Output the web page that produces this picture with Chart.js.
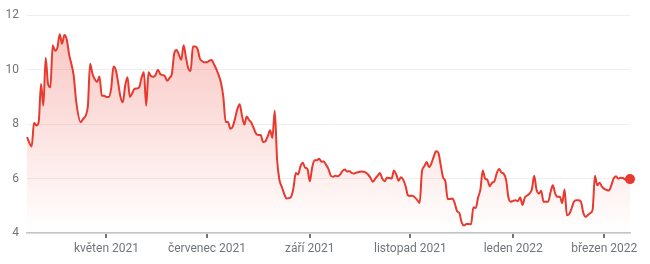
<!DOCTYPE html>
<html>
<head>
<meta charset="utf-8">
<script src="https://cdn.jsdelivr.net/npm/chart.js@4"></script>
<style>
  html, body { margin: 0; padding: 0; background: #ffffff; }
  #wrap { width: 650px; height: 264px; }
</style>
</head>
<body>
<div id="wrap"><canvas id="c" width="650" height="264"></canvas></div>
<script>
// trading-day index (0 = mid-March 2021)
const days = [0,2,3,4,5,6,7,8,9,10,11,12,13,14,15,16,17,18,20,21,23,24,26,27,28,29,30,31,32,33,34,35,36,37,38,39,40,41,42,43,44,45,46,47,48,49,50,51,52,53,54,55,56,57,58,59,60,61,62,63,64,65,66,67,68,69,70,71,72,73,74,75,76,77,78,79,80,81,82,83,84,85,86,87,88,89,90,91,92,93,94,95,96,97,98,99,100,101,102,103,104,105,106,107,108,109,110,111,112,113,114,115,116,117,118,119,120,121,122,123,124,125,126,127,128,129,130,131,132,133,134,135,136,137,138,139,140,141,142,143,144,145,146,147,148,149,150,151,152,153,154,155,156,157,158,159,160,161,162,163,164,165,166,167,168,169,170,171,172,173,174,175,176,177,178,179,180,181,182,183,184,185,186,187,188,189,190,191,192,193,194,195,196,197,198,199,200,201,202,203,204,205,206,207,208,209,210,211,212,213,214,215,216,217,218,219,220,221,222,223,224,225,226,227,228,229,230,231,232,233,234,235,236,237,238,239,240,241,242,243,244,245,246,247,248,249,250,251,252,253,254,255,256,257,258];
const prices = [7.52,7.18,8.05,7.95,8.07,9.47,8.68,10.44,9.47,9.35,10.9,10.69,10.81,11.30,10.95,11.27,11.11,10.57,9.77,8.86,8.07,8.19,8.62,10.22,9.85,9.65,9.55,9.75,9.04,9.04,9.0,9.0,9.3,10.12,9.99,9.52,9.0,8.8,9.41,9.72,9.0,9.13,9.3,9.31,9.35,9.7,9.9,8.68,9.9,9.77,9.74,9.8,10.0,9.84,9.8,9.76,9.59,9.7,9.85,10.6,10.72,10.55,10.36,10.9,10.45,10.05,9.95,10.85,10.85,10.75,10.4,10.31,10.27,10.27,10.33,10.35,10.2,10.02,9.8,9.52,9.0,8.08,8.08,7.83,7.9,8.2,8.55,8.73,8.3,7.98,8.28,8.15,8.05,7.85,7.65,7.6,7.6,7.34,7.37,7.55,7.77,7.49,8.5,6.7,5.95,5.7,5.45,5.27,5.28,5.33,5.65,6.2,6.15,6.45,6.58,6.4,6.35,5.9,6.4,6.67,6.67,6.73,6.62,6.63,6.5,6.35,6.1,6.07,6.1,6.08,6.15,6.28,6.33,6.26,6.27,6.2,6.19,6.22,6.24,6.26,6.25,6.22,6.14,6.02,5.88,6.0,6.1,6.2,6.0,5.9,6.03,6.02,6.0,6.3,6.15,5.92,6.05,5.95,5.72,5.38,5.36,5.37,5.3,5.21,5.1,6.27,6.45,6.61,6.42,6.55,6.8,7.0,6.95,6.5,6.05,5.9,5.25,5.25,5.27,5.1,4.8,4.73,4.38,4.28,4.33,4.33,4.32,4.95,4.92,5.3,5.6,6.3,6.0,5.95,5.72,5.85,5.9,6.2,6.35,6.22,6.17,5.95,5.3,5.15,5.18,5.2,5.17,5.3,5.03,5.3,5.38,5.45,5.6,6.1,5.6,5.45,5.55,5.15,5.15,5.15,5.5,5.75,5.45,5.33,5.33,5.1,5.6,4.65,4.7,4.9,5.15,5.2,5.2,5.15,4.75,4.6,4.66,4.73,4.85,6.1,5.75,5.85,5.7,5.62,5.58,5.56,5.75,6.0,6.08,6.0,6.03,6.02,5.96,5.99,5.98];

const monthTickDays = [34, 77, 121, 164, 208, 247];
const monthTickLabels = ['květen 2021', 'červenec 2021', 'září 2021', 'listopad 2021', 'leden 2022', 'březen 2022'];
const yTicks = [4, 6, 8, 10, 12];

const points = days.map((d, i) => ({ x: d, y: prices[i] }));
const lastIndex = points.length - 1;
const RED = '#e8392e';
const TXT = '#70757a';

const ctx = document.getElementById('c').getContext('2d');
new Chart(ctx, {
  type: 'line',
  data: {
    datasets: [{
      data: points,
      borderColor: RED,
      borderWidth: 2,
      cubicInterpolationMode: 'monotone',
      fill: 'start',
      backgroundColor: (c) => {
        const area = c.chart.chartArea;
        if (!area) return 'rgba(234,67,53,0.15)';
        const g = c.chart.ctx.createLinearGradient(0, area.top, 0, area.bottom);
        g.addColorStop(0, 'rgba(234,67,53,0.32)');
        g.addColorStop(1, 'rgba(234,67,53,0)');
        return g;
      },
      pointRadius: (c) => c.dataIndex === lastIndex ? 5 : 0,
      pointBackgroundColor: RED,
      pointBorderColor: RED,
      pointBorderWidth: 0,
      pointHoverRadius: 0,
      clip: false
    }]
  },
  options: {
    responsive: false,
    animation: false,
    events: [],
    layout: { padding: { left: 0, right: 20, top: 14, bottom: 0 } },
    plugins: { legend: { display: false }, tooltip: { enabled: false } },
    scales: {
      x: {
        type: 'linear',
        min: 0,
        max: 258,
        afterBuildTicks: (s) => { s.ticks = monthTickDays.map(v => ({ value: v })); },
        afterFit: (s) => { s.height = 31; },
        ticks: {
          autoSkip: false,
          maxRotation: 0,
          padding: 4,
          color: TXT,
          font: { family: 'Roboto', size: 12 },
          callback: (v) => {
            const i = monthTickDays.indexOf(v);
            return i >= 0 ? monthTickLabels[i] : '';
          }
        },
        grid: {
          display: true,
          drawOnChartArea: false,
          drawTicks: true,
          tickLength: 5,
          color: TXT,
          lineWidth: 2
        },
        border: { display: true, color: '#c4c4c4', width: 1.5 }
      },
      y: {
        min: 4,
        max: 12,
        afterBuildTicks: (s) => { s.ticks = yTicks.map(v => ({ value: v })); },
        afterFit: (s) => { s.width = 27; },
        ticks: {
          padding: 8,
          color: TXT,
          font: { family: 'Roboto', size: 12 }
        },
        grid: { color: '#eeeeee', lineWidth: 1, drawTicks: false },
        border: { display: false }
      }
    }
  }
});
</script>
</body>
</html>
